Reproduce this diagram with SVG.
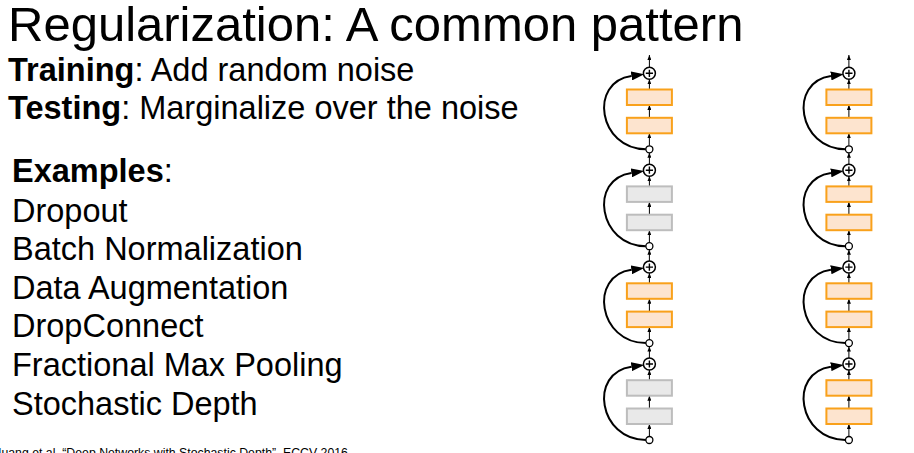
<svg xmlns="http://www.w3.org/2000/svg" width="914" height="453" viewBox="0 0 914 453">
<style>
text{font-family:"Liberation Sans",Arial,sans-serif;fill:#000}
.t{font-size:49px}
.b{font-size:32.5px}
.bold{font-weight:bold}
.foot{font-size:12.3px}
.on{fill:#FDE4CF;stroke:#F9A11B;stroke-width:2}
.off{fill:#E9E9E9;stroke:#BDBDBD;stroke-width:2}
.plus{fill:#fff;stroke:#000;stroke-width:1.5}
.pl{stroke:#000;stroke-width:1.4;fill:none}
.jn{fill:#fff;stroke:#000;stroke-width:1.3}
.ar{stroke:#000;stroke-width:1;fill:none;marker-end:url(#sm)}
.skip{stroke:#000;stroke-width:2;fill:none;marker-end:url(#big)}
</style>
<defs>
<marker id="sm" markerUnits="userSpaceOnUse" markerWidth="5" markerHeight="4" refX="5" refY="2" orient="auto"><path d="M0,0L5,2L0,4z" fill="#000"/></marker>
<marker id="big" markerUnits="userSpaceOnUse" markerWidth="13" markerHeight="9" refX="0" refY="4.5" orient="auto"><path d="M0,0L13,4.5L0,9z" fill="#000"/></marker>
</defs>
<rect width="914" height="453" fill="#fff"/>
<g id="text">
<text class="t" x="8" y="40.5">Regularization: A common pattern</text>
<text class="b" x="8" y="81"><tspan class="bold">Training</tspan>: Add random noise</text>
<text class="b" x="8" y="118.5"><tspan class="bold">Testing</tspan>: Marginalize over the noise</text>
<text class="b" x="12" y="181.5"><tspan class="bold">Examples</tspan>:</text>
<text class="b" x="12" y="221.5">Dropout</text>
<text class="b" x="12" y="260">Batch Normalization</text>
<text class="b" x="12" y="298.5">Data Augmentation</text>
<text class="b" x="12" y="337">DropConnect</text>
<text class="b" x="12" y="375.5">Fractional Max Pooling</text>
<text class="b" x="12" y="414.5">Stochastic Depth</text>
<text class="foot" x="-7.5" y="457">Huang et al, “Deep Networks with Stochastic Depth”, ECCV 2016</text>
</g>
<g id="connectors">
<g transform="translate(649.4,73.3)">
<path class="ar" d="M0,-6V-18.3"/><path class="ar" d="M0,16.2V6"/><path class="ar" d="M0,44.5V31.7"/><path class="ar" d="M0,72.5V60"/><path class="ar" d="M0,90.9V79.5"/>
<path class="skip" d="M-3.5,76C-51,75.7 -61,8.7 -18,2.7"/>
</g>
<g transform="translate(649.4,170.2)">
<path class="ar" d="M0,16.2V6"/><path class="ar" d="M0,44.5V31.7"/><path class="ar" d="M0,72.5V60"/><path class="ar" d="M0,90.9V79.5"/>
<path class="skip" d="M-3.5,76C-51,75.7 -61,8.7 -18,2.7"/>
</g>
<g transform="translate(649.4,267.1)">
<path class="ar" d="M0,16.2V6"/><path class="ar" d="M0,44.5V31.7"/><path class="ar" d="M0,72.5V60"/><path class="ar" d="M0,90.9V79.5"/>
<path class="skip" d="M-3.5,76C-51,75.7 -61,8.7 -18,2.7"/>
</g>
<g transform="translate(649.4,364)">
<path class="ar" d="M0,16.2V6"/><path class="ar" d="M0,44.5V31.7"/><path class="ar" d="M0,72.5V60"/>
<path class="skip" d="M-3.5,76C-51,75.7 -61,8.7 -18,2.7"/>
</g>
<g transform="translate(848.9,73.3)">
<path class="ar" d="M0,-6V-18.3"/><path class="ar" d="M0,16.2V6"/><path class="ar" d="M0,44.5V31.7"/><path class="ar" d="M0,72.5V60"/><path class="ar" d="M0,90.9V79.5"/>
<path class="skip" d="M-3.5,76C-51,75.7 -61,8.7 -18,2.7"/>
</g>
<g transform="translate(848.9,170.2)">
<path class="ar" d="M0,16.2V6"/><path class="ar" d="M0,44.5V31.7"/><path class="ar" d="M0,72.5V60"/><path class="ar" d="M0,90.9V79.5"/>
<path class="skip" d="M-3.5,76C-51,75.7 -61,8.7 -18,2.7"/>
</g>
<g transform="translate(848.9,267.1)">
<path class="ar" d="M0,16.2V6"/><path class="ar" d="M0,44.5V31.7"/><path class="ar" d="M0,72.5V60"/><path class="ar" d="M0,90.9V79.5"/>
<path class="skip" d="M-3.5,76C-51,75.7 -61,8.7 -18,2.7"/>
</g>
<g transform="translate(848.9,364)">
<path class="ar" d="M0,16.2V6"/><path class="ar" d="M0,44.5V31.7"/><path class="ar" d="M0,72.5V60"/>
<path class="skip" d="M-3.5,76C-51,75.7 -61,8.7 -18,2.7"/>
</g>
</g>
<g id="block-L1" transform="translate(649.4,73.3)">
<circle class="plus" r="6"/><path class="pl" d="M-3.6,0H3.6M0,-3.6V3.6"/>
<rect class="on" x="-22.5" y="16.2" width="45" height="15.5"/><rect class="on" x="-22.5" y="44.5" width="45" height="15.5"/>
<circle class="jn" cy="76" r="3.5"/>
</g>
<g id="block-L2" transform="translate(649.4,170.2)">
<circle class="plus" r="6"/><path class="pl" d="M-3.6,0H3.6M0,-3.6V3.6"/>
<rect class="off" x="-22.5" y="16.2" width="45" height="15.5"/><rect class="off" x="-22.5" y="44.5" width="45" height="15.5"/>
<circle class="jn" cy="76" r="3.5"/>
</g>
<g id="block-L3" transform="translate(649.4,267.1)">
<circle class="plus" r="6"/><path class="pl" d="M-3.6,0H3.6M0,-3.6V3.6"/>
<rect class="on" x="-22.5" y="16.2" width="45" height="15.5"/><rect class="on" x="-22.5" y="44.5" width="45" height="15.5"/>
<circle class="jn" cy="76" r="3.5"/>
</g>
<g id="block-L4" transform="translate(649.4,364)">
<circle class="plus" r="6"/><path class="pl" d="M-3.6,0H3.6M0,-3.6V3.6"/>
<rect class="off" x="-22.5" y="16.2" width="45" height="15.5"/><rect class="off" x="-22.5" y="44.5" width="45" height="15.5"/>
<circle class="jn" cy="76" r="3.5"/>
</g>
<g id="block-R1" transform="translate(848.9,73.3)">
<circle class="plus" r="6"/><path class="pl" d="M-3.6,0H3.6M0,-3.6V3.6"/>
<rect class="on" x="-22.5" y="16.2" width="45" height="15.5"/><rect class="on" x="-22.5" y="44.5" width="45" height="15.5"/>
<circle class="jn" cy="76" r="3.5"/>
</g>
<g id="block-R2" transform="translate(848.9,170.2)">
<circle class="plus" r="6"/><path class="pl" d="M-3.6,0H3.6M0,-3.6V3.6"/>
<rect class="on" x="-22.5" y="16.2" width="45" height="15.5"/><rect class="on" x="-22.5" y="44.5" width="45" height="15.5"/>
<circle class="jn" cy="76" r="3.5"/>
</g>
<g id="block-R3" transform="translate(848.9,267.1)">
<circle class="plus" r="6"/><path class="pl" d="M-3.6,0H3.6M0,-3.6V3.6"/>
<rect class="on" x="-22.5" y="16.2" width="45" height="15.5"/><rect class="on" x="-22.5" y="44.5" width="45" height="15.5"/>
<circle class="jn" cy="76" r="3.5"/>
</g>
<g id="block-R4" transform="translate(848.9,364)">
<circle class="plus" r="6"/><path class="pl" d="M-3.6,0H3.6M0,-3.6V3.6"/>
<rect class="on" x="-22.5" y="16.2" width="45" height="15.5"/><rect class="on" x="-22.5" y="44.5" width="45" height="15.5"/>
<circle class="jn" cy="76" r="3.5"/>
</g>
</svg>
